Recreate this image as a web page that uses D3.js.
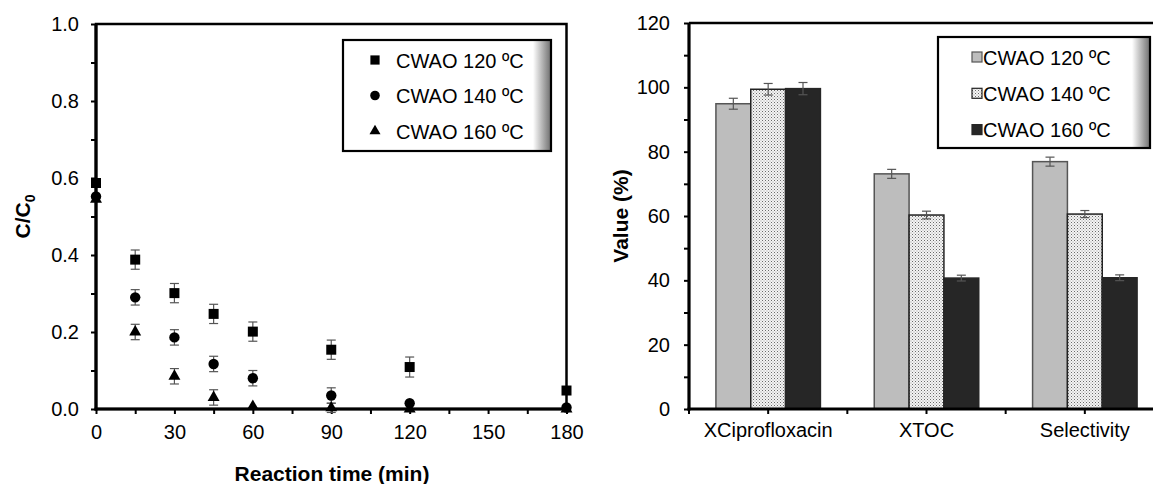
<!DOCTYPE html>
<html><head><meta charset="utf-8">
<script src="https://cdn.jsdelivr.net/npm/d3@7"></script>
<style>
html,body{margin:0;padding:0;background:#fff;}
svg{display:block;font-family:"Liberation Sans",Arial,Helvetica,sans-serif;}
</style></head>
<body>
<svg id="c" width="1153" height="484"></svg>
<script>
// ---------- data: left panel ----------
const times = [0, 15, 30, 45, 60, 90, 120, 180];
const seriesNames = ["CWAO 120 ºC", "CWAO 140 ºC", "CWAO 160 ºC"];
const c120 = [0.587, 0.388, 0.301, 0.247, 0.201, 0.154, 0.109, 0.048];
const c120err = [0.0, 0.025, 0.025, 0.025, 0.025, 0.025, 0.026, 0.0];
const c140 = [0.552, 0.290, 0.186, 0.117, 0.080, 0.035, 0.015, 0.004];
const c140err = [0.0, 0.02, 0.02, 0.02, 0.02, 0.02, 0.0, 0.0];
const c160 = [0.545, 0.200, 0.085, 0.030, 0.007, 0.003, 0.0, 0.0];
const c160err = [0.0, 0.02, 0.02, 0.02, 0.0, 0.012, 0.0, 0.0];
const xTicks = [0, 30, 60, 90, 120, 150, 180];
const yTicksLeft = [0, 0.2, 0.4, 0.6, 0.8, 1.0];

// ---------- data: right panel ----------
const categories = ["XCiprofloxacin", "XTOC", "Selectivity"];
const v120 = [94.9, 73.1, 76.9];
const v120err = [1.7, 1.4, 1.4];
const v140 = [99.4, 60.3, 60.6];
const v140err = [1.8, 1.2, 1.1];
const v160 = [99.6, 40.7, 40.8];
const v160err = [1.9, 0.9, 0.9];
const yTicksRight = [0, 20, 40, 60, 80, 100, 120];

const svg = d3.select("#c");
const FONT = 20;

// defs: pattern + gradient
const defs = svg.append("defs");
const pat = defs.append("pattern").attr("id", "dots").attr("patternUnits", "userSpaceOnUse")
  .attr("width", 3).attr("height", 3);
pat.append("rect").attr("width", 3).attr("height", 3).attr("fill", "#f4f4f4");
pat.append("rect").attr("x", 0).attr("y", 0).attr("width", 1).attr("height", 1).attr("fill", "#6a6a6a");
pat.append("rect").attr("x", 1.5).attr("y", 1.5).attr("width", 1).attr("height", 1).attr("fill", "#9a9a9a");
const grad = defs.append("linearGradient").attr("id", "shade").attr("x1", 0).attr("x2", 1).attr("y1", 0).attr("y2", 0);
grad.append("stop").attr("offset", "0%").attr("stop-color", "#fff");
grad.append("stop").attr("offset", "100%").attr("stop-color", "#6e6e6e");

function legendBox(g, x0, y0, w, h) {
  g.append("rect").attr("x", x0).attr("y", y0).attr("width", w).attr("height", h).attr("fill", "#fff");
  g.append("rect").attr("x", x0 + w - 18).attr("y", y0).attr("width", 18).attr("height", h).attr("fill", "url(#shade)");
  g.append("rect").attr("x", x0).attr("y", y0).attr("width", w).attr("height", h)
    .attr("fill", "none").attr("stroke", "#000").attr("stroke-width", 2.2);
}

// ================= LEFT PANEL =================
const xL = d3.scaleLinear().domain([0, 180]).range([96, 566.5]);
const yL = d3.scaleLinear().domain([0, 1]).range([409, 24]);
const gL = svg.append("g");

// minor ticks
const minorY = d3.range(0, 1.0001, 0.1);
const axY = d3.axisLeft(yL).tickValues(minorY).tickSize(5).tickPadding(12)
  .tickFormat(d => (Math.round(d * 10) % 2 === 0) ? d3.format(".1f")(d) : "");
const gy = gL.append("g").attr("transform", `translate(${xL(0)},0)`).call(axY);
gy.select(".domain").remove();
gy.selectAll("line").attr("stroke", "#000").attr("stroke-width", 2);
gy.selectAll("text").attr("font-size", FONT).attr("fill", "#000");

const minorX = d3.range(0, 181, 15);
const axX = d3.axisBottom(xL).tickValues(minorX).tickSize(5).tickPadding(11)
  .tickFormat(d => xTicks.includes(d) ? d : "");
const gx = gL.append("g").attr("transform", `translate(0,${yL(0)})`).call(axX);
gx.select(".domain").remove();
gx.selectAll("line").attr("stroke", "#000").attr("stroke-width", 2);
gx.selectAll("text").attr("font-size", FONT).attr("fill", "#000");

// frame
gL.append("rect").attr("x", xL(0)).attr("y", yL(1)).attr("width", xL(180) - xL(0)).attr("height", yL(0) - yL(1))
  .attr("fill", "none").attr("stroke", "#000").attr("stroke-width", 2.5);
gL.append("line").attr("x1", xL(0)).attr("x2", xL(0)).attr("y1", yL(1)).attr("y2", yL(0) + 1.5).attr("stroke", "#000").attr("stroke-width", 3.2);
gL.append("line").attr("x1", xL(0) - 1.5).attr("x2", xL(180)).attr("y1", yL(0)).attr("y2", yL(0)).attr("stroke", "#000").attr("stroke-width", 3.2);

// labels
gL.append("text").attr("x", 332).attr("y", 481).attr("text-anchor", "middle")
  .attr("font-size", 21).attr("font-weight", "bold").text("Reaction time (min)");
const yl = gL.append("text").attr("transform", `translate(30,${(yL(0) + yL(1)) / 2}) rotate(-90)`)
  .attr("text-anchor", "middle").attr("font-size", 21).attr("font-weight", "bold");
yl.append("tspan").text("C/C");
yl.append("tspan").attr("font-size", 14).attr("dy", 5).text("0");

// series
const series = [
  {name: seriesNames[0], vals: c120, err: c120err, shape: d3.symbolSquare, size: 100},
  {name: seriesNames[1], vals: c140, err: c140err, shape: d3.symbolCircle, size: 85},
  {name: seriesNames[2], vals: c160, err: c160err, shape: d3.symbolTriangle, size: 62}
];
const errG = gL.append("g").attr("stroke", "#555").attr("stroke-width", 1.2);
series.forEach(s => {
  s.vals.forEach((v, i) => {
    const e = s.err[i];
    if (e > 0) {
      const cx = xL(times[i]);
      errG.append("line").attr("x1", cx).attr("x2", cx).attr("y1", yL(v + e)).attr("y2", yL(v - e));
      errG.append("line").attr("x1", cx - 4.5).attr("x2", cx + 4.5).attr("y1", yL(v + e)).attr("y2", yL(v + e));
      errG.append("line").attr("x1", cx - 4.5).attr("x2", cx + 4.5).attr("y1", yL(v - e)).attr("y2", yL(v - e));
    }
  });
});
series.slice().reverse().forEach(s => {
  gL.append("g").selectAll("path").data(s.vals).join("path")
    .attr("d", d3.symbol().type(s.shape).size(s.size))
    .attr("transform", (v, i) => `translate(${xL(times[i])},${yL(v)})`)
    .attr("fill", "#000");
});

// legend left
const lgL = gL.append("g");
legendBox(lgL, 343, 40, 208, 111);
series.forEach((s, i) => {
  const cy = 60 + i * 35.5;
  lgL.append("path").attr("d", d3.symbol().type(s.shape).size(s.size * 0.85)())
    .attr("transform", `translate(375,${cy})`).attr("fill", "#000");
  lgL.append("text").attr("x", 396).attr("y", cy + 7.5).attr("font-size", FONT).text(s.name);
});

// ================= RIGHT PANEL =================
const xR = d3.scaleBand().domain(categories).range([689, 1164]).padding(0);
const yR = d3.scaleLinear().domain([0, 120]).range([409, 23]);
const gR = svg.append("g");
const groupW = xR.bandwidth() * 0.66;
const xIn = d3.scaleBand().domain([0, 1, 2]).range([0, groupW]).padding(0);

const barSeries = [
  {name: seriesNames[0], vals: v120, err: v120err, fill: "#bdbdbd", stroke: "#555"},
  {name: seriesNames[1], vals: v140, err: v140err, fill: "url(#dots)", stroke: "#222"},
  {name: seriesNames[2], vals: v160, err: v160err, fill: "#262626", stroke: "#262626"}
];

barSeries.forEach((s, si) => {
  gR.append("g").selectAll("rect").data(s.vals).join("rect")
    .attr("x", (v, i) => xR(categories[i]) + (xR.bandwidth() - groupW) / 2 + xIn(si))
    .attr("width", xIn.bandwidth())
    .attr("y", v => yR(v))
    .attr("height", v => yR(0) - yR(v))
    .attr("fill", s.fill).attr("stroke", s.stroke).attr("stroke-width", 1.5);
});
const errR = gR.append("g").attr("stroke", "#555").attr("stroke-width", 1.2);
barSeries.forEach((s, si) => {
  s.vals.forEach((v, i) => {
    const cx = xR(categories[i]) + (xR.bandwidth() - groupW) / 2 + xIn(si) + xIn.bandwidth() / 2;
    const e = s.err[i];
    errR.append("line").attr("x1", cx).attr("x2", cx).attr("y1", yR(v + e)).attr("y2", yR(v - e));
    errR.append("line").attr("x1", cx - 4.5).attr("x2", cx + 4.5).attr("y1", yR(v + e)).attr("y2", yR(v + e));
    errR.append("line").attr("x1", cx - 4.5).attr("x2", cx + 4.5).attr("y1", yR(v - e)).attr("y2", yR(v - e));
  });
});

// y axis right panel
const minorYR = d3.range(0, 121, 10);
const axYR = d3.axisLeft(yR).tickValues(minorYR).tickSize(5).tickPadding(14)
  .tickFormat(d => yTicksRight.includes(d) ? d : "");
const gyR = gR.append("g").attr("transform", `translate(${xR.range()[0]},0)`).call(axYR);
gyR.select(".domain").remove();
gyR.selectAll("line").attr("stroke", "#000").attr("stroke-width", 2);
gyR.selectAll("text").attr("font-size", FONT).attr("fill", "#000");

// x ticks at band boundaries and centers
const tickPos = [];
categories.forEach(c => { tickPos.push(xR(c)); tickPos.push(xR(c) + xR.bandwidth() / 2); });
gR.append("g").selectAll("line").data(tickPos).join("line")
  .attr("x1", d => d).attr("x2", d => d).attr("y1", yR(0)).attr("y2", yR(0) + 5)
  .attr("stroke", "#000").attr("stroke-width", 2);
gR.append("g").selectAll("text").data(categories).join("text")
  .attr("x", d => xR(d) + xR.bandwidth() / 2).attr("y", 437).attr("text-anchor", "middle")
  .attr("font-size", FONT).text(d => d);

// axis lines
gR.append("line").attr("x1", xR.range()[0]).attr("x2", xR.range()[0]).attr("y1", yR(120)).attr("y2", yR(0) + 1.5).attr("stroke", "#000").attr("stroke-width", 3.2);
gR.append("line").attr("x1", xR.range()[0] - 1.5).attr("x2", xR.range()[1]).attr("y1", yR(0)).attr("y2", yR(0)).attr("stroke", "#000").attr("stroke-width", 3.2);
gR.append("line").attr("x1", xR.range()[0]).attr("x2", xR.range()[1]).attr("y1", yR(120)).attr("y2", yR(120)).attr("stroke", "#000").attr("stroke-width", 2.5);

// y label
gR.append("text").attr("transform", `translate(628,${(yR(0) + yR(120)) / 2}) rotate(-90)`)
  .attr("text-anchor", "middle").attr("font-size", 21).attr("font-weight", "bold").text("Value (%)");

// legend right
const lgR = gR.append("g");
legendBox(lgR, 938, 37, 212, 111);
barSeries.forEach((s, i) => {
  const cy = 57 + i * 36.3;
  lgR.append("rect").attr("x", 972).attr("y", cy - 5).attr("width", 10).attr("height", 10)
    .attr("fill", s.fill).attr("stroke", s.stroke).attr("stroke-width", 1.2);
  lgR.append("text").attr("x", 983).attr("y", cy + 7.5).attr("font-size", FONT).text(s.name);
});
</script>
</body></html>
